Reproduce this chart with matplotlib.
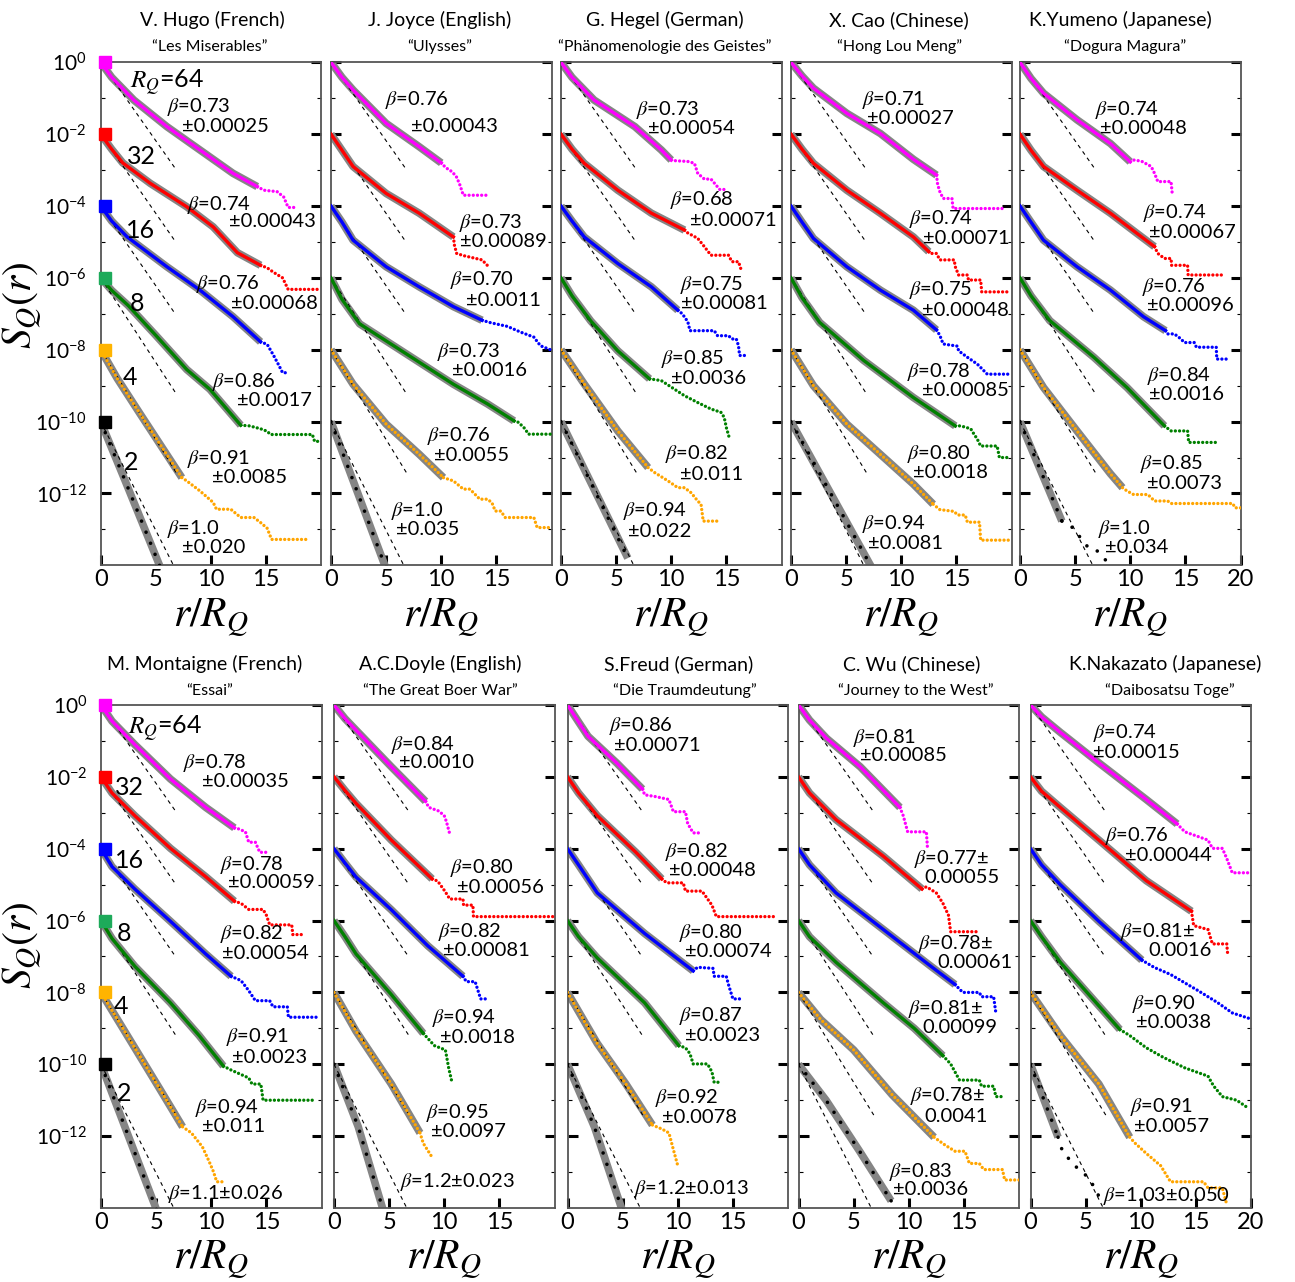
import matplotlib
matplotlib.use('Agg')
import matplotlib.pyplot as plt
import numpy as np
from matplotlib.ticker import FixedLocator, FixedFormatter, NullFormatter

plt.rcParams['font.family'] = ['Lato', 'DejaVu Sans']
plt.rcParams['mathtext.fontset'] = 'custom'
plt.rcParams['mathtext.rm'] = 'Lato'
plt.rcParams['mathtext.it'] = 'Lato:italic'
plt.rcParams['mathtext.bf'] = 'Lato:bold'

# ------------------------------------
# data (log10 S_Q values, curves for R_Q = 64, 32, 16, 8, 4, 2)
# X/Y = fitted range, TX/TY = tail beyond the fit
# ------------------------------------
RQ = ['64', '32', '16', '8', '4', '2']
COLORS = ['#ff00ff', '#ff0000', '#0000ff', '#008000', '#ffa500', '#000000']
SQUARE_COLORS = ['#ff00ff', '#ff0000', '#0000ff', '#1daa5a', '#ffb400', '#000000']
DASH_X = [6.8, 6.8, 6.8, 6.9, 7.0, 6.6]
DASH_Y = [-2.97, -5.0, -7.02, -9.25, -11.5, -14.0]

HUGO_X = [[0, 1, 3, 6, 9, 12, 14.2], [0, 1, 2, 4.5, 7.8, 10.2, 12.4, 14.5], [0, 1, 2.4, 6, 9, 12, 14.5],
          [0, 1, 2.5, 5, 7.8, 9.9, 12.7], [0, 1.5, 3.5, 7.36], [0, 2.1, 5.6]]
HUGO_Y = [[0, -0.42, -1.05, -1.79, -2.44, -3.09, -3.46], [-2, -2.42, -2.8, -3.37, -4.02, -4.58, -5.3, -5.65],
          [-4, -4.42, -4.86, -5.69, -6.34, -7.08, -7.78], [-6, -6.35, -6.77, -7.6, -8.55, -9.1, -10.1],
          [-8, -8.8, -9.75, -11.56], [-10, -11.56, -14.2]]
HUGO_TX = [[14.8, 16.0, 16.6, 17.0, 17.8], [15.1, 15.7, 16.5, 17.0, 19.9], [15.1, 15.7, 16.1, 16.5, 16.9],
           [13.5, 14.5, 15.1, 15.4, 19.2, 19.4, 20], [7.8, 9, 10.2, 10.5, 11.8, 12.7, 13.9, 14.5, 15.1, 15.5, 18.6], []]
HUGO_TY = [[-3.56, -3.6, -3.75, -4.04, -4.04], [-5.72, -5.85, -6.0, -6.32, -6.32], [-7.85, -8.17, -8.4, -8.64, -8.64],
           [-10.12, -10.2, -10.27, -10.36, -10.36, -10.55, -10.55],
           [-11.65, -11.93, -12.25, -12.44, -12.44, -12.67, -12.67, -12.81, -12.97, -13.28, -13.28], []]
HUGO_BETA = ['0.73', '0.74', '0.76', '0.86', '0.91', '1.0']
HUGO_ERR = ['0.00025', '0.00043', '0.00068', '0.0017', '0.0085', '0.020']
HUGO_FMT = ['two'] * 6

JOYCE_X = [[0, 1, 2, 5, 8, 10], [0, 1, 2, 5, 8, 11.1], [0, 1, 2, 5, 8, 11.1, 13.7],
           [0, 1, 2.6, 6.6, 11.1, 14.2, 16.6], [0, 2, 5, 8, 10.2], [0, 5.0]]
JOYCE_Y = [[0, -0.42, -0.77, -1.7, -2.35, -2.8], [-2, -2.45, -2.9, -3.65, -4.2, -4.86],
           [-4, -4.45, -4.95, -5.69, -6.25, -6.8, -7.18], [-6, -6.6, -7.28, -8.07, -8.96, -9.51, -9.98],
           [-8, -8.96, -10.07, -10.91, -11.56], [-10, -14.1]]
JOYCE_TX = [[10.4, 11.0, 11.4, 11.7, 12.0, 14.2], [11.2, 11.4, 12.0, 13.0, 13.7, 14.3], [14.5, 16, 17.2, 18.4, 19, 19.9],
            [17.0, 17.6, 17.9, 19.9], [11.1, 12, 12.6, 13.5, 14.2, 14.6, 14.9, 15.4, 15.8, 18.4, 18.7, 19.9], []]
JOYCE_TY = [[-2.93, -3.05, -3.2, -3.42, -3.7, -3.7], [-5.1, -5.32, -5.38, -5.45, -5.5, -5.69],
            [-7.25, -7.35, -7.51, -7.65, -7.89, -8.0], [-10.02, -10.2, -10.35, -10.35],
            [-11.65, -11.88, -11.88, -12.16, -12.16, -12.26, -12.49, -12.49, -12.67, -12.67, -12.95, -12.95], []]
JOYCE_BETA = ['0.76', '0.73', '0.70', '0.73', '0.76', '1.0']
JOYCE_ERR = ['0.00043', '0.00089', '0.0011', '0.0016', '0.0055', '0.035']
JOYCE_FMT = ['two'] * 6

HEGEL_X = [[0, 1, 3, 6.7, 9.1, 10], [0, 1, 2.1, 5.15, 8.2, 11.2], [0, 1, 2.1, 5.15, 8.2, 10.6],
           [0, 1, 2.7, 5.15, 8.03], [0, 2.1, 5.15, 7.9], [0, 6.06]]
HEGEL_Y = [[0, -0.42, -1.05, -1.79, -2.44, -2.72], [-2, -2.42, -2.81, -3.56, -4.2, -4.67],
           [-4, -4.42, -4.86, -5.6, -6.25, -6.9], [-6, -6.5, -7.2, -8.03, -8.81],
           [-8, -8.95, -10.26, -11.28], [-10, -13.8]]
HEGEL_TX = [[10.4, 11.5, 12.1, 12.4, 13.0, 13.6, 14.4, 14.8], [11.5, 12.4, 13.0, 13.6, 15.2, 15.5, 16.1, 16.4],
            [11.0, 11.5, 11.7, 13.9, 14.2, 15.2, 15.5, 15.9, 16.1, 16.2, 16.7],
            [9.1, 11.2, 12.4, 13.6, 14.5, 14.8, 15.0, 15.3], [8.5, 9.7, 10.6, 11.2, 11.8, 12.4, 12.7, 12.9, 14.2], []]
HEGEL_TY = [[-2.74, -2.76, -2.81, -3.09, -3.25, -3.25, -3.54, -3.54], [-4.75, -4.9, -5.13, -5.37, -5.37, -5.55, -5.55, -5.83],
            [-7.0, -7.22, -7.47, -7.47, -7.61, -7.61, -7.7, -7.7, -7.89, -8.16, -8.16],
            [-8.86, -9.28, -9.47, -9.65, -9.74, -9.88, -10.17, -10.49],
            [-11.42, -11.65, -11.84, -11.84, -11.98, -12.21, -12.3, -12.77, -12.77], []]
HEGEL_BETA = ['0.73', '0.68', '0.75', '0.85', '0.82', '0.94']
HEGEL_ERR = ['0.00054', '0.00071', '0.00081', '0.0036', '0.011', '0.022']
HEGEL_FMT = ['two'] * 6

CAO_X = [[0, 1, 2.03, 5.06, 8.1, 11.1, 13.2], [0, 1, 2.03, 5.06, 8.1, 11.1, 12.5], [0, 1, 2.03, 5.06, 8.1, 11.1, 13.2],
         [0, 1, 2.6, 6.6, 11.1, 14.9], [0, 2.03, 5.06, 8.1, 11.1, 12.9], [0, 7.3]]
CAO_Y = [[0, -0.38, -0.72, -1.42, -1.98, -2.7, -3.14], [-2, -2.42, -2.81, -3.56, -4.2, -4.86, -5.27],
         [-4, -4.45, -4.9, -5.69, -6.34, -6.9, -7.45], [-6, -6.55, -7.24, -8.3, -9.33, -10.12],
         [-8, -9.0, -10.07, -10.91, -11.74, -12.3], [-10, -14.05]]
CAO_TX = [[13.3, 13.5, 13.8, 14.6, 14.7, 19.2], [12.6, 13.2, 13.5, 14.8, 14.9, 15.2, 16.0, 16.1, 17.2, 17.3, 19.9],
          [13.5, 13.8, 15.1, 15.2, 16.0, 16.9, 17.8, 19.9], [15.4, 16.3, 16.6, 16.9, 17.2, 18.7, 18.9, 19.9],
          [13.5, 14.8, 15.1, 15.8, 16.0, 17.1, 17.2, 19.9], []]
CAO_TY = [[-3.4, -3.6, -3.79, -3.79, -4.07, -4.07], [-5.32, -5.32, -5.5, -5.5, -5.69, -5.92, -5.92, -6.06, -6.06, -6.39, -6.39],
          [-7.6, -7.84, -7.9, -8.03, -8.21, -8.4, -8.68, -8.68], [-10.12, -10.2, -10.35, -10.49, -10.68, -10.68, -11.0, -11.0],
          [-12.45, -12.5, -12.6, -12.6, -12.8, -12.8, -13.3, -13.3], []]
CAO_BETA = ['0.71', '0.74', '0.75', '0.78', '0.80', '0.94']
CAO_ERR = ['0.00027', '0.00071', '0.00048', '0.00085', '0.0018', '0.0081']
CAO_FMT = ['two'] * 6

YUMENO_X = [[0, 1, 2.13, 5.17, 8.2, 10], [0, 1, 2.13, 5.17, 8.2, 10.6, 12.2], [0, 1, 2.13, 5.17, 8.2, 11.2, 13.2],
            [0, 1, 2.7, 6.7, 9.7, 13.1], [0, 2.13, 5.17, 8.2, 9.3], [0, 3.8]]
YUMENO_Y = [[0, -0.45, -0.86, -1.6, -2.26, -2.77], [-2, -2.45, -2.9, -3.56, -4.2, -4.76, -5.13],
            [-4, -4.45, -4.95, -5.69, -6.34, -7.08, -7.47], [-6, -6.5, -7.19, -8.21, -9.05, -10.12],
            [-8, -9.05, -10.26, -11.45, -11.84], [-10, -12.77]]
YUMENO_TX = [[10.3, 11.0, 11.9, 12.2, 12.5, 13.7, 13.8, 14.1], [12.5, 13.1, 13.7, 13.75, 15.2, 15.25, 18.5],
             [13.4, 14.0, 14.6, 14.9, 15.8, 16.0, 17.8, 17.85, 18.7], [13.7, 15.2, 15.3, 17.9],
             [9.7, 10.3, 11.6, 12.2, 13.4, 13.7, 19.3, 19.5, 20], [4.6, 5.2, 5.6, 6.1, 6.6, 7.0, 7.3, 7.9, 8.2]]
YUMENO_TY = [[-2.72, -2.75, -2.9, -3.09, -3.32, -3.32, -3.63, -3.63], [-5.32, -5.46, -5.46, -5.65, -5.65, -5.92, -5.92],
             [-7.56, -7.56, -7.7, -7.8, -7.8, -7.93, -7.93, -8.26, -8.26], [-10.26, -10.26, -10.58, -10.58],
             [-11.93, -12.03, -12.03, -12.21, -12.21, -12.28, -12.28, -12.4, -12.4],
             [-12.9, -13.1, -13.3, -13.47, -13.5, -13.6, -13.7, -13.9, -14.0]]
YUMENO_BETA = ['0.74', '0.74', '0.76', '0.84', '0.85', '1.0']
YUMENO_ERR = ['0.00048', '0.00067', '0.00096', '0.0016', '0.0073', '0.034']
YUMENO_FMT = ['two'] * 6

MONT_X = [[0, 1, 3.06, 6.3, 9.5, 12.1], [0, 1, 3.06, 6.3, 9.5, 12.1], [0, 1, 3.06, 6.3, 9.5, 11.8],
          [0, 1, 3.06, 6.3, 8.9, 11.1], [0, 3.06, 5.3, 7.4], [0, 5.1]]
MONT_Y = [[0, -0.45, -1.1, -2.06, -2.85, -3.42], [-2, -2.45, -3.08, -3.99, -4.78, -5.46],
          [-4, -4.5, -5.12, -6.02, -6.93, -7.55], [-6, -6.5, -7.27, -8.29, -9.2, -10.05],
          [-8, -9.54, -10.67, -11.74], [-10, -14.1]]
MONT_TX = [[12.5, 13.1, 13.4, 14.0, 14.4, 15.3], [12.7, 13.4, 14.7, 15.0, 15.3, 17.3, 17.4, 18.2],
           [12.7, 13.4, 14.0, 15.3, 15.6, 16.9, 17.0, 19.7], [11.8, 13.4, 13.7, 14.5, 14.7, 19.2],
           [8.2, 9.2, 9.8, 10.2, 10.5, 11.3], []]
MONT_TY = [[-3.45, -3.53, -3.82, -3.82, -4.1, -4.1], [-5.52, -5.69, -5.69, -5.85, -6.12, -6.12, -6.39, -6.39],
           [-7.67, -7.95, -8.23, -8.23, -8.4, -8.4, -8.69, -8.69], [-10.16, -10.38, -10.55, -10.55, -11.0, -11.0],
           [-11.91, -12.3, -12.7, -12.99, -13.27, -13.27], []]
MONT_BETA = ['0.78', '0.78', '0.82', '0.91', '0.94', '1.1']
MONT_ERR = ['0.00035', '0.00059', '0.00054', '0.0023', '0.011', '0.026']
MONT_FMT = ['two'] * 5 + ['one']

DOYLE_X = [[0, 1, 2, 5.2, 8.3], [0, 1, 2, 5.2, 8.9], [0, 1, 2, 5.2, 8.5, 11.7],
           [0, 1, 2, 5.2, 8.1], [0, 2, 5.2, 7.8], [0, 2.2, 4.45]]
DOYLE_Y = [[0, -0.38, -0.7, -1.72, -2.68], [-2, -2.38, -2.74, -3.76, -4.84], [-4, -4.4, -4.79, -5.7, -6.7, -7.55],
           [-6, -6.45, -6.93, -8.06, -9.14], [-8, -9.08, -10.55, -11.91], [-10, -11.74, -14.05]]
DOYLE_TX = [[8.6, 9.5, 10.0, 10.2, 10.5], [9.4, 10.1, 10.5, 11.7, 11.75, 12.6, 12.65, 20],
            [12.0, 12.8, 13.0, 13.3, 13.8], [9.1, 10.1, 10.2, 10.4, 10.7], [8.1, 8.45, 8.8], []]
DOYLE_TY = [[-2.85, -2.95, -3.08, -3.25, -3.59], [-4.9, -5.2, -5.4, -5.4, -5.57, -5.57, -5.89, -5.89],
            [-7.7, -7.7, -7.89, -8.18, -8.18], [-9.48, -9.6, -9.76, -10.1, -10.5], [-12.2, -12.37, -12.54], []]
DOYLE_BETA = ['0.84', '0.80', '0.82', '0.94', '0.95', '1.2']
DOYLE_ERR = ['0.0010', '0.00056', '0.00081', '0.0018', '0.0097', '0.023']
DOYLE_FMT = ['two'] * 5 + ['one']

FREUD_X = [[0, 1, 1.86, 4.45, 6.8], [0, 1, 2.7, 6.2, 8.55], [0, 1, 2.7, 7.0, 11.4],
           [0, 1, 2.7, 7.0, 10.1], [0, 2.7, 5.3, 7.7], [0, 2.45, 4.95]]
FREUD_Y = [[0, -0.47, -0.87, -1.61, -2.34], [-2, -2.45, -3.08, -4.1, -4.84], [-4, -4.45, -5.23, -6.36, -7.4],
           [-6, -6.45, -7.04, -8.29, -9.48], [-8, -9.42, -10.55, -11.69], [-10, -11.75, -14.05]]
FREUD_TX = [[7.0, 8.0, 9.2, 9.6, 10.7, 10.9, 11.4, 12.2], [9.0, 10.5, 10.7, 12.2, 13.1, 13.5, 18.7],
            [11.8, 13.2, 13.3, 14.4, 14.6, 15.0, 15.7], [10.7, 11.1, 11.4, 12.7, 13.1, 13.3, 14.0],
            [8.55, 9.2, 9.6, 10.0], []]
FREUD_TY = [[-2.5, -2.55, -2.63, -2.97, -2.97, -3.3, -3.56, -3.56], [-4.95, -4.95, -5.18, -5.18, -5.57, -5.89, -5.89],
            [-7.3, -7.33, -7.55, -7.55, -7.78, -8.18, -8.18], [-9.54, -9.7, -9.99, -9.99, -10.21, -10.5, -10.5],
            [-11.8, -11.91, -12.37, -12.82], []]
FREUD_BETA = ['0.86', '0.82', '0.80', '0.87', '0.92', '1.2']
FREUD_ERR = ['0.00071', '0.00048', '0.00074', '0.0023', '0.0078', '0.013']
FREUD_FMT = ['two'] * 5 + ['one']

WU_X = [[0, 1, 2.55, 5.6, 9.2], [0, 1, 3.4, 7.7, 11.2], [0, 1, 3.4, 7.7, 12, 14.2],
        [0, 1, 3.4, 7.7, 10.5, 13.1], [0, 2, 5, 8.5, 12.3], [0, 2.5, 5.5, 8.4]]
WU_Y = [[0, -0.42, -0.93, -1.72, -2.85], [-2, -2.45, -3.19, -4.21, -5.12], [-4, -4.45, -5.23, -6.25, -7.27, -7.78],
        [-6, -6.45, -7.16, -8.29, -9.0, -9.76], [-8, -8.75, -9.6, -10.85, -12.03], [-10, -11.0, -12.4, -13.8]]
WU_TX = [[9.5, 9.9, 11.6, 11.65, 11.7], [11.6, 12.5, 13.1, 13.6, 13.8, 16.4], [14.9, 16.4, 16.6, 17.7, 17.9],
         [13.8, 14.6, 16.4, 16.6, 17.7, 17.9, 18.5], [13.3, 14.2, 15.1, 15.5, 16.4, 16.8, 18.5, 18.7, 20], [9.0]]
WU_TY = [[-3.08, -3.53, -3.53, -3.76, -3.99], [-5.06, -5.23, -5.52, -5.85, -6.31, -6.31], [-8.0, -8.0, -8.12, -8.12, -8.57],
         [-9.99, -10.44, -10.44, -10.61, -10.61, -10.9, -10.9],
         [-12.25, -12.42, -12.42, -12.76, -12.76, -12.93, -12.93, -13.22, -13.22], [-14.0]]
WU_BETA = ['0.81', '0.77', '0.78', '0.81', '0.78', '0.83']
WU_ERR = ['0.00085', '0.00055', '0.00061', '0.00099', '0.0041', '0.0036']
WU_FMT = ['two', 'end', 'end', 'end', 'end', 'two']

NAKA_X = [[0, 1, 2.7, 6.2, 10.5, 13.3], [0, 1, 2.7, 6.2, 10.5, 14.6], [0, 1, 2.7, 6.2, 10.1],
          [0, 1, 2.7, 5.3, 8.1], [0, 2.7, 6.2, 9.0], [0, 2.5]]
NAKA_Y = [[0, -0.33, -0.76, -1.61, -2.63, -3.31], [-2, -2.4, -2.85, -3.76, -4.89, -5.74], [-4, -4.45, -5.0, -6.02, -7.1],
          [-6, -6.45, -7.16, -8.06, -9.03], [-8, -9.2, -10.55, -12.03], [-10, -12.03]]
NAKA_TX = [[14.0, 16.1, 16.5, 17.4, 17.8, 18.3, 20], [14.8, 16.1, 16.5, 17.8, 17.9], [11.2, 12.7, 15.2, 17.0, 18.3, 20],
           [9.0, 10.5, 12.0, 14.0, 16.1, 16.6, 17.4, 18.7, 19.8], [9.5, 10.5, 11.8, 12.7, 15.7, 16.1, 17.4, 17.8],
           [2.9, 4.0, 4.9, 5.5, 6.2, 6.6]]
NAKA_TY = [[-3.53, -3.76, -3.99, -3.99, -4.27, -4.67, -4.67], [-6.14, -6.25, -6.65, -6.65, -6.99],
           [-7.3, -7.5, -7.95, -8.29, -8.57, -8.74], [-9.2, -9.54, -9.8, -10.1, -10.33, -10.6, -10.9, -11.0, -11.23],
           [-12.2, -12.48, -12.82, -13.27, -13.27, -13.44, -13.44, -13.9], [-12.42, -12.82, -13.05, -13.27, -13.67, -13.9]]
NAKA_BETA = ['0.74', '0.76', '0.81', '0.90', '0.91', '1.03']
NAKA_ERR = ['0.00015', '0.00044', '0.0016', '0.0038', '0.0057', '0.050']
NAKA_FMT = ['two', 'two', 'end', 'two', 'two', 'one']

AUTHORS = ['V. Hugo (French)', 'J. Joyce (English)', 'G. Hegel (German)', 'X. Cao (Chinese)', 'K.Yumeno (Japanese)',
           'M. Montaigne (French)', 'A.C.Doyle (English)', 'S.Freud (German)', 'C. Wu (Chinese)', 'K.Nakazato (Japanese)']
BOOKS = ['“Les Miserables”', '“Ulysses”', '“Phänomenologie des Geistes”', '“Hong Lou Meng”', '“Dogura Magura”',
         '“Essai”', '“The Great Boer War”', '“Die Traumdeutung”', '“Journey to the West”', '“Daibosatsu Toge”']

# ------------------------------------
# layout (pixels of the 1295x1282 figure, text positions in data units)
# ------------------------------------
W, H = 1295, 1282
LEFTS = [100.7, 331, 561, 791, 1020, 101, 334, 567.5, 798.5, 1030.5]
TOPS = [62.3] * 5 + [705] * 5
AX_W, AX_H = 220.5, 503
TITLE_X = [212, 440, 665, 899, 1120, 205, 440, 679, 912, 1165]
BOOK_X = [210, 440, 665, 900, 1125, 210, 440, 685, 916, 1170]

# (x line1, log y line1, x line2, log y line2)
HUGO_POS = [(6.0, -1.25, 7.4, -1.79), (7.8, -3.97, 11.6, -4.44), (8.6, -6.16, 11.8, -6.71),
            (10.1, -8.91, 12.4, -9.42), (7.8, -11.04, 10.1, -11.56), (6.0, -12.99, 7.4, -13.5)]
JOYCE_POS = [(4.9, -1.05, 7.3, -1.79), (11.6, -4.47, 11.7, -5.0), (10.8, -6.06, 12.2, -6.62),
             (9.6, -8.07, 11.0, -8.58), (8.7, -10.4, 9.3, -10.95), (5.4, -12.49, 5.9, -13.0)]
HEGEL_POS = [(6.8, -1.33, 7.9, -1.84), (9.85, -3.83, 11.7, -4.39), (10.8, -6.2, 10.9, -6.71),
             (9.1, -8.25, 10.0, -8.81), (9.4, -10.9, 10.8, -11.46), (5.6, -12.49, 6.06, -13.05)]
CAO_POS = [(6.4, -1.05, 6.9, -1.56), (10.7, -4.35, 12.0, -4.9), (10.7, -6.34, 11.9, -6.9),
           (10.5, -8.63, 11.9, -9.14), (10.5, -10.9, 11.1, -11.42), (6.4, -12.85, 7.0, -13.38)]
YUMENO_POS = [(6.8, -1.33, 7.3, -1.84), (11.2, -4.2, 11.7, -4.75), (11.1, -6.25, 11.5, -6.78),
              (11.5, -8.72, 11.7, -9.25), (10.9, -11.19, 11.5, -11.72), (7.1, -12.99, 7.75, -13.5)]
MONT_POS = [(7.4, -1.61, 9.2, -2.12), (10.8, -4.44, 11.5, -4.95), (10.8, -6.36, 11.0, -6.93),
            (11.3, -9.25, 11.9, -9.82), (8.5, -11.23, 9.2, -11.74), (6.1, -13.61, 0, 0)]
DOYLE_POS = [(5.2, -1.1, 5.9, -1.61), (10.5, -4.53, 11.2, -5.08), (9.4, -6.31, 9.9, -6.82),
             (8.9, -8.72, 9.6, -9.25), (8.3, -11.35, 8.8, -11.86), (6.0, -13.27, 0, 0)]
FREUD_POS = [(3.8, -0.59, 4.2, -1.13), (8.8, -4.08, 9.2, -4.61), (10.1, -6.34, 10.7, -6.87),
             (10.1, -8.65, 10.7, -9.2), (7.9, -10.95, 8.55, -11.48), (6.0, -13.48, 0, 0)]
WU_POS = [(4.9, -0.91, 5.6, -1.4), (10.5, -4.3, 11.4, -4.81), (10.8, -6.65, 12.6, -7.16),
          (9.9, -8.46, 11.2, -8.97), (10.1, -10.89, 11.4, -11.44), (8.2, -12.99, 8.6, -13.48)]
NAKA_POS = [(5.7, -0.79, 5.7, -1.33), (6.8, -3.65, 8.6, -4.19), (8.1, -6.31, 10.7, -6.82),
            (9.2, -8.31, 9.6, -8.83), (9.0, -11.18, 9.4, -11.72), (6.6, -13.67, 0, 0)]

# R_Q annotation positions for the left column panels
RQ_POS_TOP = [(6.0, -0.58), (3.7, -2.63), (3.6, -4.67), (3.3, -6.71), (2.7, -8.77), (2.8, -11.14)]
RQ_POS_BOT = [(5.8, -0.65), (2.6, -2.29), (2.6, -4.33), (2.1, -6.36), (1.8, -8.4), (2.1, -10.8)]

PANELS = [
    (HUGO_X, HUGO_Y, HUGO_TX, HUGO_TY, HUGO_BETA, HUGO_ERR, HUGO_FMT, HUGO_POS),
    (JOYCE_X, JOYCE_Y, JOYCE_TX, JOYCE_TY, JOYCE_BETA, JOYCE_ERR, JOYCE_FMT, JOYCE_POS),
    (HEGEL_X, HEGEL_Y, HEGEL_TX, HEGEL_TY, HEGEL_BETA, HEGEL_ERR, HEGEL_FMT, HEGEL_POS),
    (CAO_X, CAO_Y, CAO_TX, CAO_TY, CAO_BETA, CAO_ERR, CAO_FMT, CAO_POS),
    (YUMENO_X, YUMENO_Y, YUMENO_TX, YUMENO_TY, YUMENO_BETA, YUMENO_ERR, YUMENO_FMT, YUMENO_POS),
    (MONT_X, MONT_Y, MONT_TX, MONT_TY, MONT_BETA, MONT_ERR, MONT_FMT, MONT_POS),
    (DOYLE_X, DOYLE_Y, DOYLE_TX, DOYLE_TY, DOYLE_BETA, DOYLE_ERR, DOYLE_FMT, DOYLE_POS),
    (FREUD_X, FREUD_Y, FREUD_TX, FREUD_TY, FREUD_BETA, FREUD_ERR, FREUD_FMT, FREUD_POS),
    (WU_X, WU_Y, WU_TX, WU_TY, WU_BETA, WU_ERR, WU_FMT, WU_POS),
    (NAKA_X, NAKA_Y, NAKA_TX, NAKA_TY, NAKA_BETA, NAKA_ERR, NAKA_FMT, NAKA_POS),
]

FIT_GRAY = '#858585'
DOTS = dict(ls=(0, (0.01, 1.25)), lw=2.4, dash_capstyle='round')
SPARSE = dict(ls=(0, (0.01, 3.3)), lw=2.6, dash_capstyle='round')
LABEL_SIZE = 14.5


def label_lines(b, e, fmt):
    if fmt == 'one':
        return r'$\beta$=' + b + '±' + e, None
    if fmt == 'end':
        return r'$\beta$=' + b + '±', e
    return r'$\beta$=' + b, '±' + e


def draw_panel(ax, xs, ys, txs, tys, betas, errs, fmts, pos):
    for i in range(6):
        x = np.array(xs[i], dtype=float)
        y = 10.0 ** np.array(ys[i], dtype=float)
        c = COLORS[i]
        # stretched exponential fit (gray band)
        ax.plot(x, y, color=FIT_GRAY, lw=5.5, solid_capstyle='butt', zorder=2)
        # exponential reference
        ax.plot([x[0], DASH_X[i]], [y[0], 10.0 ** DASH_Y[i]], color='k', lw=0.8,
                ls=(0, (3.5, 3.5)), zorder=3)
        if i < 4:
            ax.plot(x, y, color=c, lw=2.4, zorder=4)
        elif i == 4:
            ax.plot(x, y, color=c, zorder=4, **DOTS)
        else:
            ax.plot(x, y, color=c, zorder=4, **SPARSE)
        if len(txs[i]):
            tx = np.concatenate([[x[-1]], txs[i]])
            ty = 10.0 ** np.concatenate([[ys[i][-1]], tys[i]])
            style = SPARSE if i == 5 else DOTS
            ax.plot(tx, ty, color=c, zorder=4, **style)
        l1, l2 = label_lines(betas[i], errs[i], fmts[i])
        x1, y1, x2, y2 = pos[i]
        ax.text(x1, 10.0 ** y1, l1, fontsize=LABEL_SIZE, ha='left', va='center',
                math_fontfamily='stix', zorder=6)
        if l2:
            ax.text(x2, 10.0 ** y2, l2, fontsize=LABEL_SIZE, ha='left', va='center', zorder=6)


fig = plt.figure(figsize=(W / 100, H / 100), dpi=100)

for k, panel in enumerate(PANELS):
    left = LEFTS[k] / W
    bottom = 1 - (TOPS[k] + AX_H) / H
    ax = fig.add_axes([left, bottom, AX_W / W, AX_H / H])
    ax.set_yscale('log')
    ax.set_xlim(0, 20)
    ax.set_ylim(1e-14, 1.0)
    draw_panel(ax, *panel)

    col = k % 5
    ax.set_xticks([0, 5, 10, 15, 20] if col == 4 else [0, 5, 10, 15])
    ax.set_xticklabels(['0', '5', '10', '15', '20'] if col == 4 else ['0', '5', '10', '15'])
    major = [10.0 ** -e for e in range(0, 13, 2)]
    ax.yaxis.set_major_locator(FixedLocator(major))
    ax.yaxis.set_minor_locator(FixedLocator([10.0 ** -e for e in range(1, 14, 2)]))
    ax.yaxis.set_minor_formatter(NullFormatter())
    ax.yaxis.set_major_formatter(FixedFormatter([r'$10^{%d}$' % -e for e in range(0, 13, 2)]))
    ax.tick_params(axis='x', direction='in', length=7, width=2.2, labelsize=17, pad=3, top=False)
    ax.tick_params(axis='y', which='major', direction='in', length=7, width=2.2, right=True,
                   labelsize=15, pad=10, labelleft=(col == 0))
    ax.tick_params(axis='y', which='minor', direction='in', length=3, width=0.8, right=True)
    ax.xaxis.set_minor_locator(FixedLocator([]))
    for s in ax.spines.values():
        s.set_color('#555555')
        s.set_linewidth(1.3)

    ax.text(0.5, -0.103, r'$r/R_Q$', transform=ax.transAxes, ha='center', va='center',
            fontsize=30, math_fontfamily='stix')

    if col == 0:
        rq_pos = RQ_POS_TOP if k == 0 else RQ_POS_BOT
        for i in range(6):
            ax.plot(0.4, 10.0 ** (-2 * i), marker='s', ms=9, color=SQUARE_COLORS[i],
                    clip_on=False, zorder=7)
            lx, ly = rq_pos[i]
            txt = r'$R_Q$=' + RQ[i] if i == 0 else RQ[i]
            ax.text(lx, 10.0 ** ly, txt, fontsize=18, ha='center', va='center',
                    math_fontfamily='stix', zorder=6)

    ty = 20 if k < 5 else 664
    by = 47 if k < 5 else 691
    fig.text(TITLE_X[k] / W, 1 - ty / H, AUTHORS[k], fontsize=14, ha='center', va='center')
    fig.text(BOOK_X[k] / W, 1 - by / H, BOOKS[k], fontsize=11.5, ha='center', va='center')

fig.text(22 / W, 1 - 305 / H, r'$S_Q(r)$', rotation=90, fontsize=30, ha='center', va='center',
         math_fontfamily='stix')
fig.text(22 / W, 1 - 945 / H, r'$S_Q(r)$', rotation=90, fontsize=30, ha='center', va='center',
         math_fontfamily='stix')

fig.savefig('out.png', dpi=100)
